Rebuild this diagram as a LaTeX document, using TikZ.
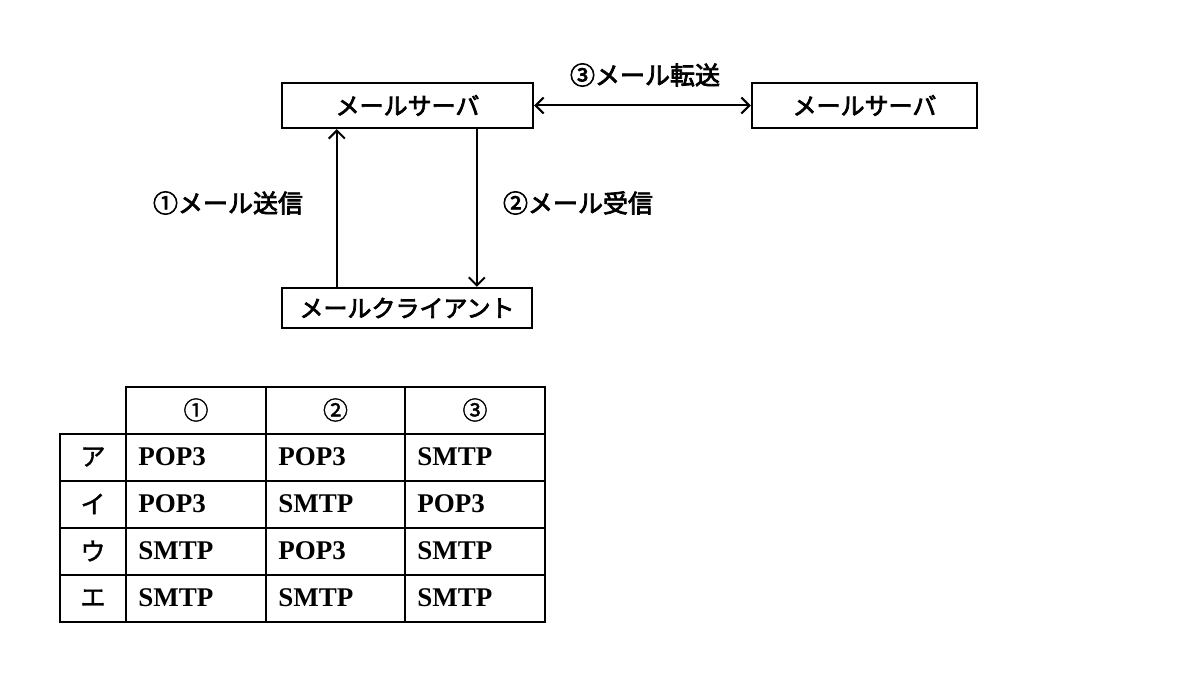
\documentclass[tikz,border=0pt]{standalone}
\usepackage{fontspec}
\setmainfont{Liberation Serif}
\newfontfamily\jp[FakeBold=1.5]{Noto Sans CJK JP}
\newfontfamily\jpm[FakeBold=3]{Noto Sans CJK JP}
\usetikzlibrary{arrows.meta,positioning}
\tikzset{
  box/.style  = {draw, line width=1.2pt, inner sep=0pt, minimum height=22.5pt,
                 font=\jpm\fontsize{12}{14}\selectfont},
  ar/.style   = {-{Straight Barb[length=4pt,width=8pt]}, line width=1pt},
  lbl/.style  = {font=\jpm\fontsize{12.5}{14}\selectfont},
  tbl/.style  = {line width=1.1pt},
  kana/.style = {font=\jp\fontsize{12.5}{14}\selectfont},
  cell/.style = {anchor=west, inner sep=0pt, font=\bfseries\fontsize{13.5}{15}\selectfont},
}

\begin{document}
\begin{tikzpicture}[x=0.5pt, y=-0.5pt]
  \useasboundingbox (0,0) rectangle (1180,700);
  % diagram
  \node[box, minimum width=125.5pt] (srv) at (407.5,105.5) {メールサーバ};
  \node[box, minimum width=112.5pt] (srv2) at (864.5,105.5) {メールサーバ};
  \node[box, minimum width=125pt, minimum height=20pt] (cli) at (407,308) {メールクライアント};
  \draw[ar, {Straight Barb[length=4pt,width=8pt]}-{Straight Barb[length=4pt,width=8pt]}] (srv) -- (srv2);
  \draw[ar] ([xshift=28pt]cli.north west) -- ([xshift=28pt]srv.south west);
  \draw[ar] ([xshift=98pt]srv.south west) -- ([xshift=98pt]cli.north west);
  \node[lbl] (l3) at (645,75) {③メール転送};
  \node[lbl] (l1) at (228,203) {①メール送信};
  \node[lbl] (l2) at (578,203) {②メール受信};
  % table
  \draw[tbl] (126,387) rectangle (545,622);
  \draw[tbl] (60,434) rectangle (126,622);
  \draw[tbl] (126,434) -- (545,434);
  \foreach \y in {481,528,575} \draw[tbl] (60,\y) -- (545,\y);
  \foreach \x in {266,405} \draw[tbl] (\x,387) -- (\x,622);
  \foreach \k/\t in {0/①,1/②,2/③}
    \node[kana] (h\k) at ({196+139.5*\k},410) {\t};
  \foreach \r/\ch/\a/\b/\c in {1/ア/POP3/POP3/SMTP, 2/イ/POP3/SMTP/POP3,
                               3/ウ/SMTP/POP3/SMTP, 4/エ/SMTP/SMTP/SMTP} {
    \node[kana] (k\r) at (93,{410+47*\r}) {\ch};
    \node[cell] (a\r) at (138,{410+47*\r}) {\a};
    \node[cell] (b\r) at (278,{410+47*\r}) {\b};
    \node[cell] (c\r) at (417,{410+47*\r}) {\c};
  }
\end{tikzpicture}
\end{document}
